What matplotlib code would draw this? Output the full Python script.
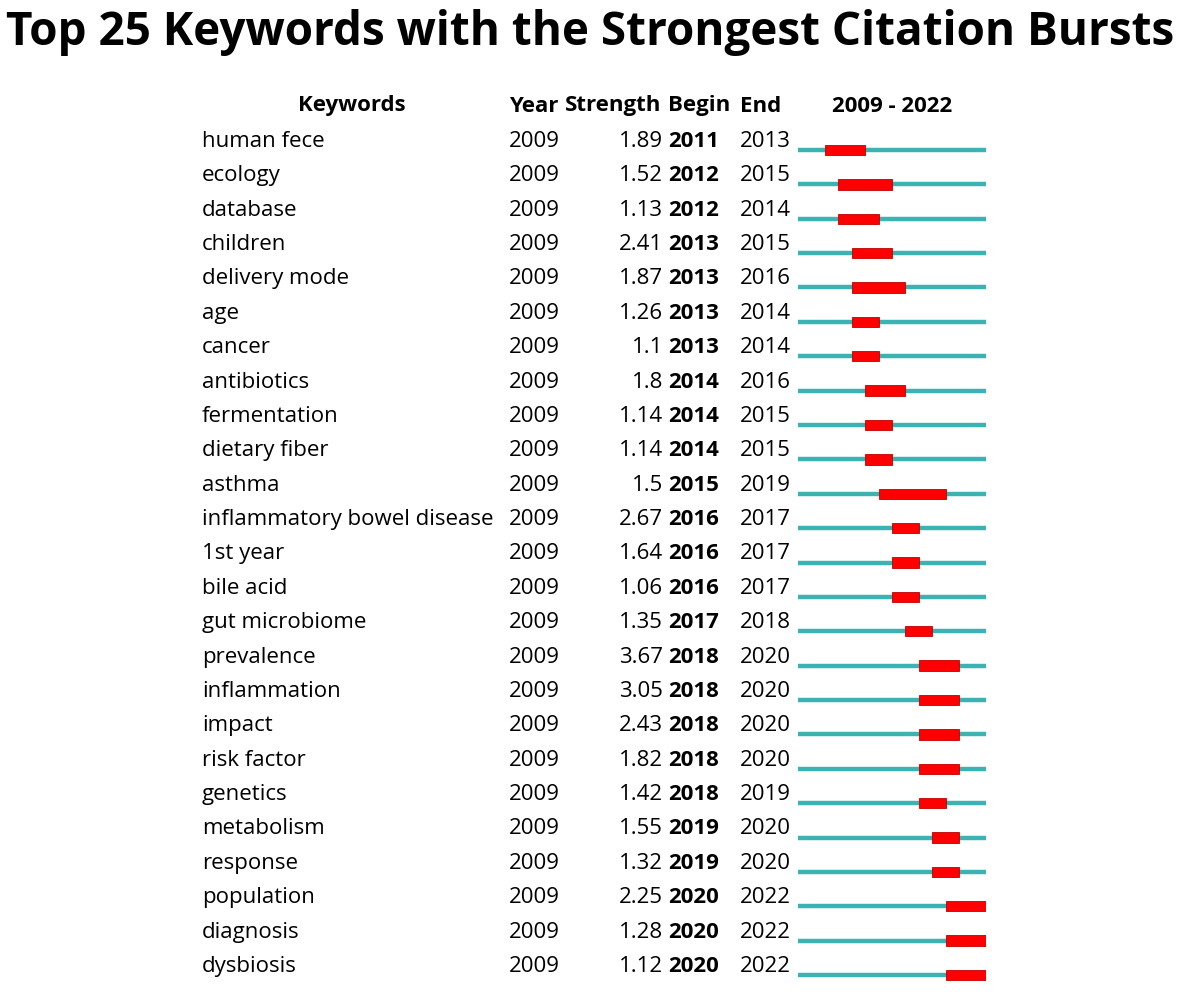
import numpy as np
import matplotlib
matplotlib.use("Agg")
import matplotlib.pyplot as plt
from matplotlib import transforms

plt.rcParams['font.family'] = ['Open Sans', 'DejaVu Sans']

keywords = ["human fece", "ecology", "database", "children", "delivery mode", "age",
            "cancer", "antibiotics", "fermentation", "dietary fiber", "asthma",
            "inflammatory bowel disease", "1st year", "bile acid", "gut microbiome",
            "prevalence", "inflammation", "impact", "risk factor", "genetics",
            "metabolism", "response", "population", "diagnosis", "dysbiosis"]
year = [2009] * 25
strength = ["1.89", "1.52", "1.13", "2.41", "1.87", "1.26", "1.1", "1.8", "1.14", "1.14",
            "1.5", "2.67", "1.64", "1.06", "1.35", "3.67", "3.05", "2.43", "1.82", "1.42",
            "1.55", "1.32", "2.25", "1.28", "1.12"]
begin = [2011, 2012, 2012, 2013, 2013, 2013, 2013, 2014, 2014, 2014, 2015, 2016, 2016,
         2016, 2017, 2018, 2018, 2018, 2018, 2018, 2019, 2019, 2020, 2020, 2020]
end = [2013, 2015, 2014, 2015, 2016, 2014, 2014, 2016, 2015, 2015, 2019, 2017, 2017,
       2017, 2018, 2020, 2020, 2020, 2020, 2019, 2020, 2020, 2022, 2022, 2022]
first_year, last_year = 2009, 2022

W, H = 1181, 1001
fig = plt.figure(figsize=(W / 100, H / 100), dpi=100)
fig.patch.set_facecolor("white")

n = len(keywords)
top_px, bot_px = 132.8, 992.2
ax = fig.add_axes([798 / W, 1 - bot_px / H, 188 / W, (bot_px - top_px) / H])
ax.set_xlim(first_year, last_year + 1)
ax.set_ylim(n - 0.5, -0.5)
ax.axis("off")

teal = "#3bb3b3"
red = "#ff0000"
rows = np.arange(n)
ax.hlines(rows, first_year, last_year + 1, color=teal, lw=3.2, zorder=1)
ax.barh(rows, np.array(end) - np.array(begin) + 1, left=begin, height=0.3,
        color=red, edgecolor="#c00000", linewidth=0.6, zorder=2)

tr = transforms.blended_transform_factory(fig.transFigure, ax.transData)
fs = 16
dy = -0.25
for i in range(n):
    y = i + dy
    ax.text(202 / W, y, keywords[i], transform=tr, fontsize=fs, va="center", ha="left")
    ax.text(509 / W, y, str(year[i]), transform=tr, fontsize=fs, va="center", ha="left")
    ax.text(663 / W, y, strength[i], transform=tr, fontsize=fs, va="center", ha="right")
    ax.text(668 / W, y, str(begin[i]), transform=tr, fontsize=fs, va="center", ha="left",
            fontweight="bold")
    ax.text(740 / W, y, str(end[i]), transform=tr, fontsize=fs, va="center", ha="left")

hy = 1 - 106 / H
hdr = dict(fontsize=fs, fontweight="bold", va="center")
fig.text(352 / W, hy, "Keywords", ha="center", **hdr)
fig.text(509 / W, hy, "Year", ha="left", **hdr)
fig.text(565 / W, hy, "Strength", ha="left", **hdr)
fig.text(668 / W, hy, "Begin", ha="left", **hdr)
fig.text(740 / W, hy, "End", ha="left", **hdr)
fig.text(892 / W, hy, f"{first_year} - {last_year}", ha="center", **hdr)

fig.text(0.5, 1 - 33 / H, "Top 25 Keywords with the Strongest Citation Bursts",
         ha="center", va="center", fontsize=33, fontweight="bold")

fig.savefig("out.png", dpi=100)
